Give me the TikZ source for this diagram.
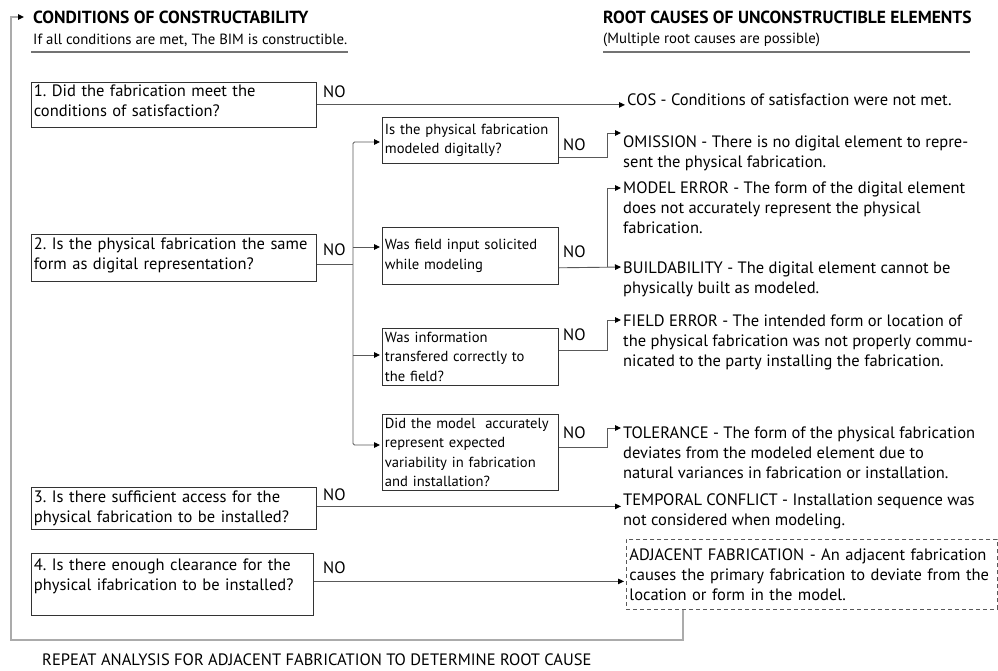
\documentclass[tikz,border=0pt]{standalone}
\usepackage{fontspec}
\setmainfont{PT Sans}
\usetikzlibrary{arrows.meta,calc}
\frenchspacing
\newcommand{\bxfont}{\fontsize{16.5}{20}\selectfont}
\newcommand{\sbfont}{\fontsize{14.6}{19.5}\selectfont}
\newcommand{\hdfont}{\bfseries\fontsize{17.5}{18}\selectfont}
\newcommand{\subfont}{\fontsize{14.8}{16}\selectfont}
\newcommand{\repfont}{\fontsize{16.5}{18}\selectfont}
\newcommand{\lne}[1]{\mbox{#1}}
\begin{document}
\begin{tikzpicture}[x=1pt,y=-1pt,
  qbox/.style={draw=black!80, line width=0.8pt, anchor=north west, align=left, inner xsep=2.5pt, inner ysep=1pt, font=\bxfont},
  sbox/.style={qbox, font=\sbfont, text width=171pt},
  cause/.style={anchor=north west, inner sep=0pt, align=left, font=\bxfont},
  conn/.style={draw=black!65, line width=0.9pt},
  tip/.style={-{Triangle[length=6pt,width=5.5pt,color=black]}},
  arr/.style={conn, tip, shorten >=2pt},
  both/.style={conn, {Triangle[length=6pt,width=5.5pt,color=black]}-{Triangle[length=6pt,width=5.5pt,color=black]}, shorten >=2pt, shorten <=2pt},
  nolab/.style={anchor=west, inner sep=0pt, font=\bxfont},
  head/.style={anchor=west, inner sep=0pt},
  uline/.style={draw=black!55, line width=1.6pt},
  loopl/.style={draw=black!33, line width=1.6pt},
  ]
\useasboundingbox (0,0) rectangle (998,670);

% headers
\node[head, font=\hdfont] (title) at (33,17) {CONDITIONS OF CONSTRUCTABILITY};
\node[head, font=\subfont] (sub1) at (33,40) {If all conditions are met, The BIM is constructible.};
\node[head, font=\hdfont] (title2) at (603,17) {ROOT CAUSES OF UNCONSTRUCTIBLE ELEMENTS};
\node[head, font=\subfont] (sub2) at (603,40) {(Multiple root causes are possible)};
\draw[uline] (31,52) -- (348,52);
\draw[uline] (603,52) -- (970,52);
\node[head, font=\repfont] (rep) at (42,660) {REPEAT ANALYSIS FOR ADJACENT FABRICATION TO DETERMINE ROOT CAUSE};

% main questions
\node[qbox, text width=280pt, minimum height=45pt, text depth=29pt] (b1) at (31,82) {\lne{1. Did the fabrication meet the}\\\lne{conditions of satisfaction?}};
\node[qbox, text width=280pt, minimum height=47pt, text depth=29pt] (b2) at (31,234) {\lne{2. Is the physical fabrication the same}\\\lne{form as digital representation?}};
\node[qbox, text width=280pt, minimum height=42pt] (b3) at (31,487) {\lne{3. Is there sufficient access for the}\\\lne{physical fabrication to be installed?}};
\node[qbox, text width=277pt, minimum height=62pt] (b4) at (31,553) {\lne{4. Is there enough clearance for the}\\\lne{physical ifabrication to be installed?}\\\mbox{}};

% sub questions
\node[sbox, minimum height=46pt] (bA) at (382,117) {\lne{Is the physical fabrication}\\\lne{modeled digitally?}};
\node[sbox, minimum height=57pt] (bB) at (382,227) {\lne{Was field input solicited}\\\lne{while modeling}};
\node[sbox, minimum height=57pt] (bC) at (382,328) {\lne{Was information}\\\lne{transfered correctly to}\\\lne{the field?}};
\node[sbox, minimum height=76pt] (bD) at (382,414) {\lne{Did the model\ \ accurately}\\\lne{represent expected}\\\lne{variability in fabrication}\\\lne{and installation?}};

% NO labels
\node[nolab] (no1) at (323,92) {NO};
\node[nolab] (no2) at (323,250) {NO};
\node[nolab] (no3) at (323,495) {NO};
\node[nolab] (no4) at (323,568) {NO};
\node[nolab] (noA) at (563,145) {NO};
\node[nolab] (noB) at (563,252) {NO};
\node[nolab] (noC) at (563,335) {NO};
\node[nolab] (noD) at (563,433) {NO};

% root causes
\node[cause] (cos) at (627,91.5) {\strut COS - Conditions of satisfaction were not met.};
\node[cause] (om) at (623,133.5) {\strut OMISSION - There is no digital element to repre-\\sent the physical fabrication.};
\node[cause] (me) at (623,179.5) {\strut MODEL ERROR - The form of the digital element\\does not accurately represent the physical\\fabrication.};
\node[cause] (bu) at (623,259.5) {\strut BUILDABILITY - The digital element cannot be\\physically built as modeled.};
\node[cause] (fe) at (623,312.5) {\strut FIELD ERROR - The intended form or location of\\the physical fabrication was not properly commu-\\nicated to the party installing the fabrication.};
\node[cause] (to) at (623,424.5) {\strut TOLERANCE - The form of the physical fabrication\\deviates from the modeled element due to\\natural variances in fabrication or installation.};
\node[cause] (te) at (623,491.5) {\strut TEMPORAL CONFLICT - Installation sequence was\\not considered when modeling.};
\node[draw=black!65, line width=0.9pt, dash pattern=on 4pt off 3pt, anchor=north west, align=left, inner xsep=3pt, inner ysep=1pt, text width=365pt, minimum height=70pt, font=\bxfont] (adj) at (626,539) {\lne{ADJACENT FABRICATION - An adjacent fabrication}\\\lne{causes the primary fabrication to deviate from the}\\\lne{location or form in the model.}};

% connectors
\draw[arr] (b1.east) -- (b1.east -| cos.west);

\coordinate (tr) at (353,264);
\coordinate (trtop) at (353,142);
\coordinate (trbot) at (353,445);
\coordinate (jB) at (353,247);
\coordinate (jC) at (353,355);
\draw[conn] (b2.east |- tr) -- (tr);
\draw[both, rounded corners=1.5pt] (trtop -| bA.west) -- (trtop) -- (trbot) -- (trbot -| bD.west);
\draw[arr] (jB) -- (jB -| bB.west);
\draw[arr] (jC) -- (jC -| bC.west);

\coordinate (cA) at (607,133);
\draw[arr] ([yshift=6pt]bA.south east) -| (cA) -- (cA -| om.west);

\coordinate (cB1) at (607,267);
\coordinate (cB2) at (607,188);
\draw[arr] ([yshift=17pt]bB.south east) -- (cB1 -| bu.west);
\draw[arr] (cB1) -- (cB2) -- (cB2 -| me.west);

\coordinate (cC) at (607,320);
\draw[arr] ([yshift=35pt]bC.south east) -| (cC) -- (cC -| fe.west);

\coordinate (cD) at (607,428);
\draw[arr] ([yshift=43pt]bD.south east) -| (cD) -- (cD -| to.west);

\draw[arr] ([yshift=2pt]b3.east) -- ([yshift=2pt]b3.east -| te.west);
\draw[arr] ([yshift=3pt]b4.east) -- ([yshift=3pt]b4.east -| adj.west);

% repeat loop
\coordinate (lb) at (11,640);
\coordinate (lt) at (11,17);
\draw[loopl, tip, shorten >=9pt] ([xshift=57pt]adj.south west) |- (lb) -- (lt) -- (lt -| title.west);
\end{tikzpicture}
\end{document}
